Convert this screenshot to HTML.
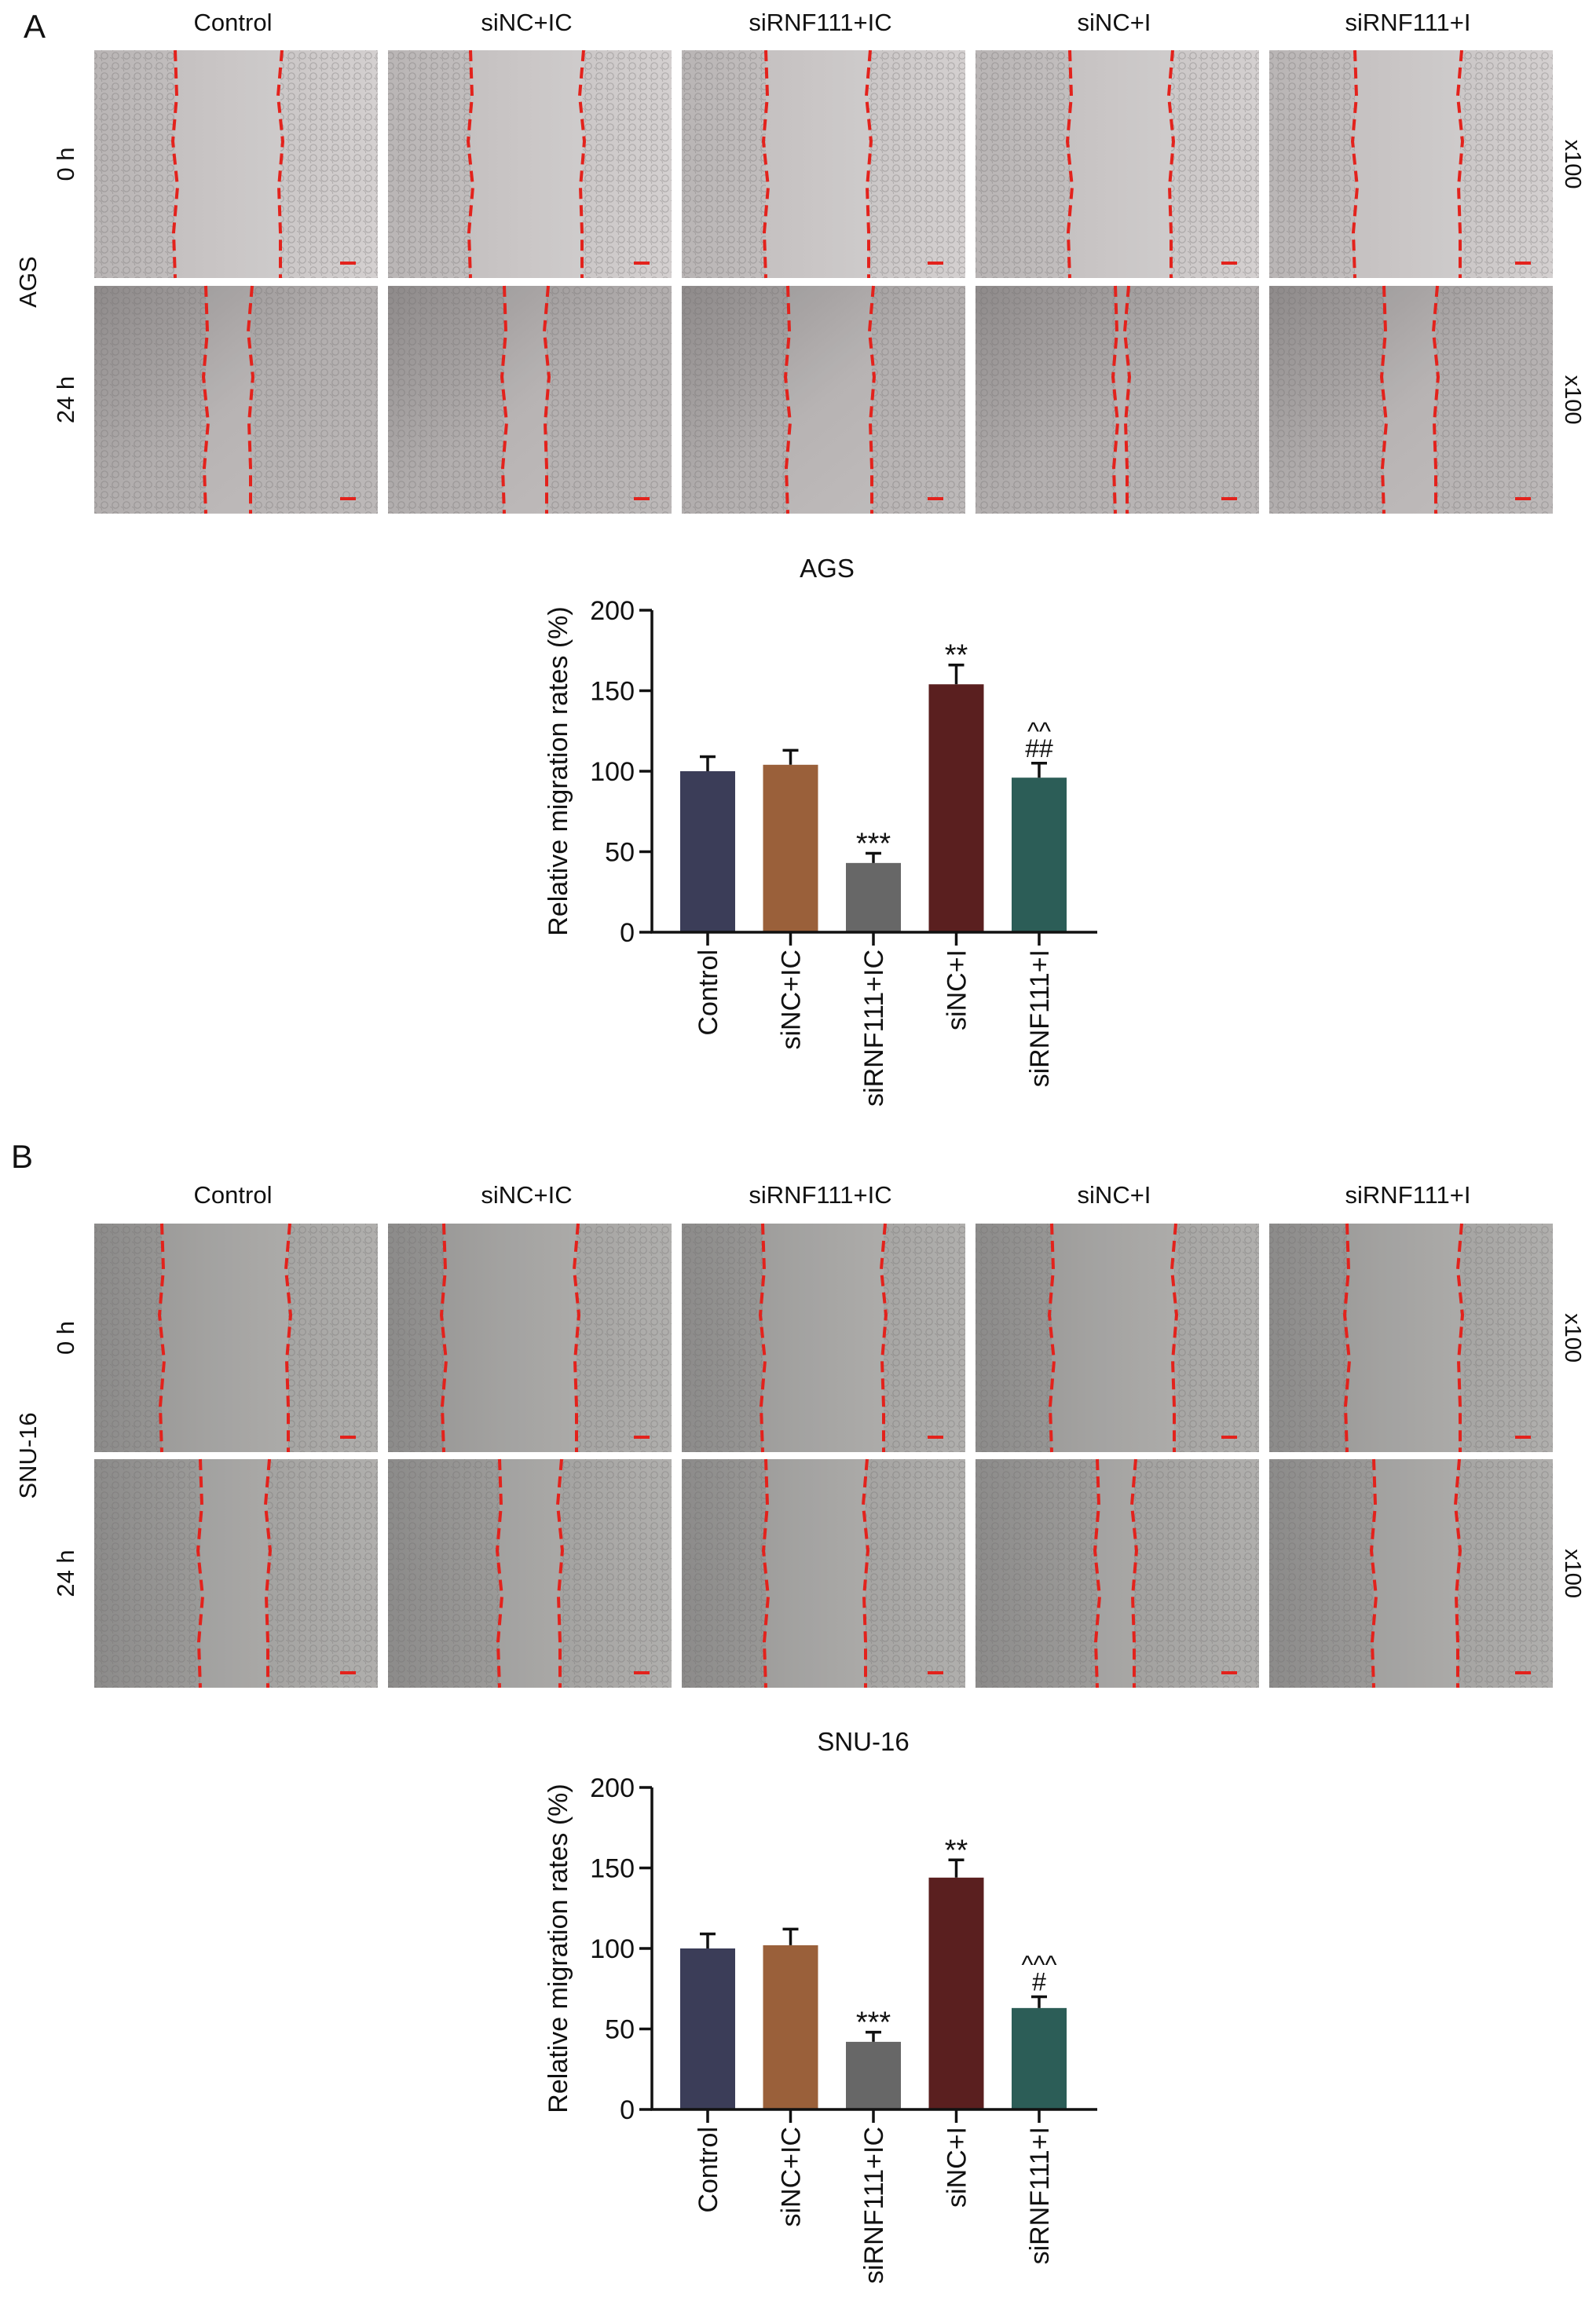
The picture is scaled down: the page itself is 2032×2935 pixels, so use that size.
<!DOCTYPE html>
<html><head><meta charset="utf-8"><style>
html,body{margin:0;padding:0;background:#fff;}
svg{display:block;font-family:"Liberation Sans",Arial,sans-serif;}
</style></head><body>
<svg id="fig" width="2032" height="2935" viewBox="0 0 2032 2935" xmlns="http://www.w3.org/2000/svg">
<defs>
<pattern id="cells" width="14" height="13" patternUnits="userSpaceOnUse">
<circle cx="7" cy="6" r="4.2" fill="none" stroke="#6d6a6a" stroke-opacity="0.35" stroke-width="1.2"/>
<circle cx="0" cy="12" r="3.6" fill="none" stroke="#6d6a6a" stroke-opacity="0.3" stroke-width="1.1"/>
</pattern>
<linearGradient id="gA1" x1="0" x2="1"><stop offset="0" stop-color="#b9b5b5"/><stop offset="1" stop-color="#d4d0d0"/></linearGradient>
<linearGradient id="gA2" x1="0" y1="0" x2="1" y2="1"><stop offset="0" stop-color="#8e8a8a"/><stop offset="0.5" stop-color="#b2aeae"/><stop offset="1" stop-color="#bdb9b9"/></linearGradient>
<linearGradient id="gB" x1="0" x2="1"><stop offset="0" stop-color="#8c8b8a"/><stop offset="0.5" stop-color="#a09f9d"/><stop offset="1" stop-color="#b0afad"/></linearGradient>
</defs>
<g id="layer"></g>
</svg>
<script>
const categories = ["Control","siNC+IC","siRNF111+IC","siNC+I","siRNF111+I"];
const agsValues = [100,104,43,154,96];
const agsErrors = [9,9,6,12,9];
const snuValues = [100,102,42,144,63];
const snuErrors = [9,10,6,11,7];
const agsMarks = [[],[],["***"],["**"],["^^","##"]];
const snuMarks = [[],[],["***"],["**"],["^^^","#"]];
const yTicks = [0,50,100,150,200];
const barColors = ["#3b3d58","#9a603a","#676767","#5a1f1f","#2c5d57"];
// wound edge positions (px inside 361-wide micrograph)
const woundA0 = [[103,237],[105,247],[107,238],[120,249],[109,243]];
const woundA24 = [[142,199],[148,202],[135,242],[178,193],[146,212]];
const woundB0 = [[86,247],[71,240],[103,257],[97,253],[99,243]];
const woundB24 = [[135,221],[142,219],[107,234],[155,202],[133,240]];

const NS="http://www.w3.org/2000/svg";
const layer=document.getElementById('layer');
function mk(tag,attrs,parent){const e=document.createElementNS(NS,tag);for(const k in attrs)e.setAttribute(k,attrs[k]);(parent||layer).appendChild(e);return e;}
function txt(s,x,y,size,extra,parent){const t=mk('text',Object.assign({x:x,y:y,'font-size':size,fill:'#111'},extra||{}),parent);t.textContent=s;return t;}

const panelX=[120,494,868,1242,1616], PW=361;
function panelRow(y,h,grad,wounds,rowName){
  wounds.forEach((w,i)=>{
    const g=mk('g',{});
    
    
    const x=panelX[i];
    mk('rect',{x:x,y:y,width:PW,height:h,fill:'url(#'+grad+')'},g);
    mk('rect',{x:x,y:y,width:w[0],height:h,fill:'url(#cells)'},g);
    mk('rect',{x:x+w[1],y:y,width:PW-w[1],height:h,fill:'url(#cells)'},g);
    mk('rect',{x:x+w[0],y:y,width:w[1]-w[0],height:h,fill:'#ffffff','fill-opacity':0.07},g);
    const off=[0,2,-3,3,-2,0], fr=[0,0.2,0.4,0.6,0.8,1];
    w.forEach((ex,k)=>{
      const pts=fr.map((f,j)=>(x+ex+off[(j+k)%6])+','+(y+f*h)).join(' ');
      mk('polyline',{points:pts,fill:'none',stroke:'#e3221c','stroke-width':4,'stroke-dasharray':'14 8'},g);
    });
    mk('rect',{x:x+PW-48,y:y+h-21,width:20,height:4,fill:'#e3221c'},g);
  });
}

function sideLabels(y1,y2,h,cell){
  [["0 h",y1],["24 h",y2]].forEach(([s,y])=>{
    const t=txt(s,0,0,31,{transform:'translate(94,'+(y+h/2)+') rotate(-90)','text-anchor':'middle'});
    
    
    const m=txt('x100',0,0,29,{transform:'translate(1993,'+(y+h/2)+') rotate(90)','text-anchor':'middle'});
    
    
  });
  const c=txt(cell,0,0,31,{transform:'translate(46,'+((y1+y2+h)/2)+') rotate(-90)','text-anchor':'middle'});
  
  
}
function colTitles(y){
  categories.forEach((c,i)=>{
    const t=txt(c,panelX[i]+PW/2-4,y,31,{'text-anchor':'middle'});
    
    
  });
}

// Panel A
const la=txt('A',30,48,42,{});


colTitles(39);
panelRow(64,290,'gA1',woundA0,'ags-0h');
panelRow(364,290,'gA2',woundA24,'ags-24h');
sideLabels(64,364,290,'AGS');

// Panel B
const lb=txt('B',14,1487,42,{});


colTitles(1532);
panelRow(1558,291,'gB',woundB0,'snu16-0h');
panelRow(1858,291,'gB',woundB24,'snu16-24h');
sideLabels(1558,1858,291,'SNU-16');

function barChart(title,titleX,titleY,y0,values,errors,marks,name){
  const g=mk('g',{});
  
  
  const axX=830, xEnd=1397, y200=y0-410;
  const ys=v=>y0-v*(y0-y200)/200;
  const xc=i=>901+i*105.5;
  const tt=txt(title,titleX,titleY,33,{'text-anchor':'middle'},g);
  
  
  values.forEach((v,i)=>{
    const b=mk('rect',{x:xc(i)-35,y:ys(v),width:70,height:y0-ys(v),fill:barColors[i]},g);
    
    
    const et=ys(v+errors[i]);
    const eb=mk('path',{d:'M'+xc(i)+','+ys(v)+'V'+et+'M'+(xc(i)-10)+','+et+'H'+(xc(i)+10),stroke:'#111','stroke-width':3.5,fill:'none'},g);
    
    
    marks[i].forEach((m,k)=>{
      const n=marks[i].length;
      let ty, size;
      if(m[0]==='*'){ty=et; size=38;}
      else {ty=et-8-(n-1-k)*22; size=32;}
      const s=txt(m,xc(i),ty,size,{'text-anchor':'middle'},g);
      
      
    });
    const tl=txt(categories[i],0,0,34,{transform:'translate('+(xc(i)+12)+','+(y0+22)+') rotate(-90)','text-anchor':'end'},g);
    
    
    mk('line',{x1:xc(i),x2:xc(i),y1:y0,y2:y0+17,stroke:'#111','stroke-width':3.5},g);
  });
  const ax=mk('path',{d:'M'+axX+','+y200+'V'+y0+'H'+xEnd,stroke:'#111','stroke-width':3.5,fill:'none'},g);
  
  
  yTicks.forEach(t=>{
    mk('line',{x1:axX-16,x2:axX,y1:ys(t),y2:ys(t),stroke:'#111','stroke-width':3.5},g);
    const l=txt(String(t),axX-22,ys(t)+12,34,{'text-anchor':'end'},g);
    
    
  });
  const yt=txt('Relative migration rates (%)',0,0,34,{transform:'translate(722,'+((y0+y200)/2)+') rotate(-90)','text-anchor':'middle'},g);
  
  
}
barChart('AGS',1053,735,1187,agsValues,agsErrors,agsMarks,'ags-bar-chart');
barChart('SNU-16',1099,2229,2686,snuValues,snuErrors,snuMarks,'snu16-bar-chart');
</script>
</body></html>
